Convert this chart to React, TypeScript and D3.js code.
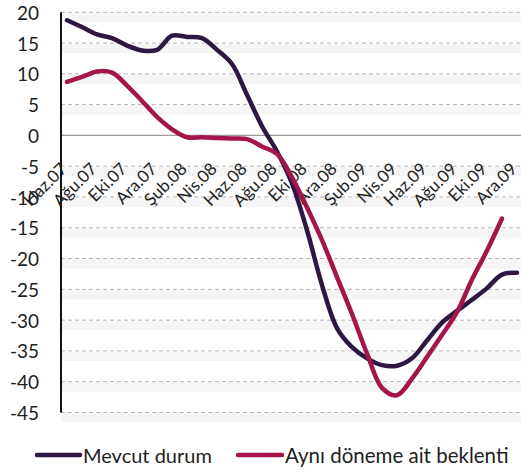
import React from "react";
import * as d3 from "d3";

const months = [
  "Haz.07", "Tem.07", "Ağu.07", "Eyl.07", "Eki.07", "Kas.07", "Ara.07",
  "Oca.08", "Şub.08", "Mar.08", "Nis.08", "May.08", "Haz.08", "Tem.08",
  "Ağu.08", "Eyl.08", "Eki.08", "Kas.08", "Ara.08", "Oca.09", "Şub.09",
  "Mar.09", "Nis.09", "May.09", "Haz.09", "Tem.09", "Ağu.09", "Eyl.09",
  "Eki.09", "Kas.09", "Ara.09",
];

const mevcutDurum = [
  18.7, 17.6, 16.4, 15.8, 14.6, 13.8, 13.9, 16.2, 16.0, 15.8, 13.9, 11.6,
  6.6, 1.5, -2.6, -7.8, -15.4, -24.3, -31.3, -34.4, -36.2, -37.3, -37.4,
  -36.2, -33.3, -30.4, -28.5, -26.7, -24.8, -22.6, -22.3,
];

const beklenti: (number | null)[] = [
  8.7, 9.5, 10.4, 10.2, 8.1, 5.6, 3.0, 1.0, -0.3, -0.3, -0.4, -0.5, -0.6,
  -1.8, -3.0, -6.8, -11.7, -17.0, -23.0, -29.0, -35.4, -41.0, -42.2, -39.5,
  -36.0, -32.4, -28.7, -23.4, -18.7, -13.5, null,
];

const yTicks = [20, 15, 10, 5, 0, -5, -10, -15, -20, -25, -30, -35, -40, -45];

const seriesNames = ["Mevcut durum", "Aynı döneme ait beklenti"];
const colors = ["#2f1744", "#a3154b"];

const W = 521;
const H = 472;
const FONT = "Lato, 'Open Sans', sans-serif";

export default function App() {
  const x = d3.scalePoint<string>().domain(months).range([67, 517]);
  const y = d3.scaleLinear().domain([-45, 20]).range([412.5, 12.3]);
  const axisX = 61;
  const right = 521;

  const line = d3
    .line<number | null>()
    .defined((d) => d !== null)
    .x((_, i) => x(months[i]) as number)
    .y((d) => y(d as number))
    .curve(d3.curveCatmullRom.alpha(0.5));

  return (
    <svg
      width={W}
      height={H}
      style={{ position: "absolute", left: 0, top: 0, background: "#fff" }}
      fontFamily={FONT}
    >
      {yTicks.map((t) =>
        t === 0 ? null : (
          <rect key={"b" + t} x={axisX} y={y(t) + 1} width={right - axisX} height={9} fill="#f5f5f5" />
        )
      )}
      {yTicks.map((t) =>
        t === 0 ? null : (
          <line
            key={"g" + t}
            x1={axisX}
            x2={right}
            y1={y(t)}
            y2={y(t)}
            stroke="#b3b3b3"
            strokeWidth={1}
            strokeDasharray="4,3"
          />
        )
      )}
      <line x1={axisX} x2={right} y1={y(0)} y2={y(0)} stroke="#9a9a9a" strokeWidth={1.2} />
      {yTicks.map((t) => (
        <text
          key={"t" + t}
          x={39}
          y={y(t)}
          textAnchor="end"
          dominantBaseline="central"
          fontSize={19}
          fill="#1e1e1e"
        >
          {t}
        </text>
      ))}
      <line x1={axisX} x2={axisX} y1={y(20)} y2={y(-45)} stroke="#111" strokeWidth={2} />
      {months.map((m, i) =>
        i % 2 === 0 ? (
          <text
            key={"x" + m}
            transform={`translate(${(x(m) as number) + 1},${170}) rotate(-45)`}
            textAnchor="end"
            fontSize={17}
            fill="#1e1e1e"
          >
            {m}
          </text>
        ) : null
      )}
      <path d={line(mevcutDurum) || ""} fill="none" stroke={colors[0]} strokeWidth={4.5} strokeLinejoin="round" strokeLinecap="round" />
      <path d={line(beklenti) || ""} fill="none" stroke={colors[1]} strokeWidth={4.5} strokeLinejoin="round" strokeLinecap="round" />
      {/* legend */}
      <line x1={37} x2={80} y1={455} y2={455} stroke={colors[0]} strokeWidth={4.5} strokeLinecap="round" />
      <text x={83} y={455} dominantBaseline="central" fontSize={20} fill="#1e1e1e">
        {seriesNames[0]}
      </text>
      <line x1={238} x2={282} y1={455} y2={455} stroke={colors[1]} strokeWidth={4.5} strokeLinecap="round" />
      <text x={285} y={455} dominantBaseline="central" fontSize={20.5} fill="#1e1e1e">
        {seriesNames[1]}
      </text>
    </svg>
  );
}
